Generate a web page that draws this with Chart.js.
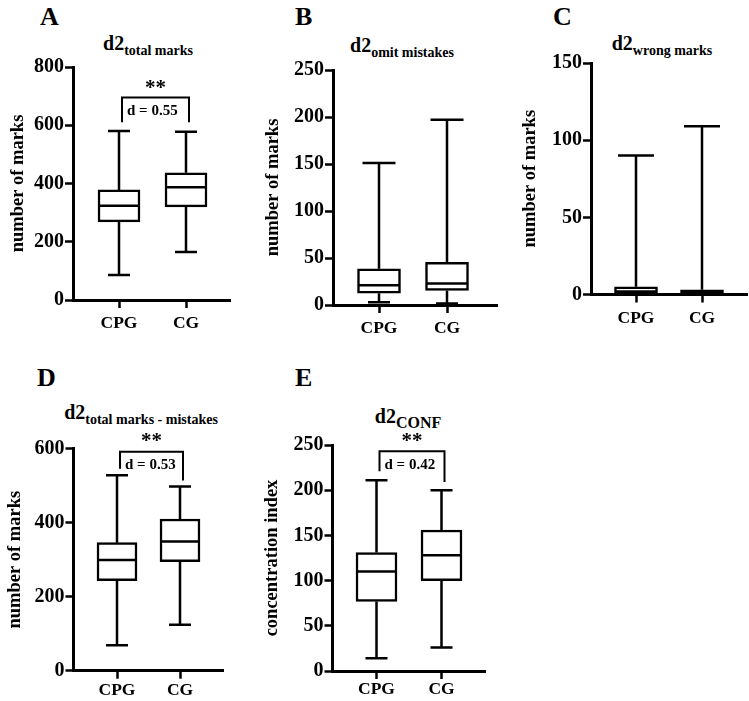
<!DOCTYPE html>
<html><head><meta charset="utf-8">
<script src="https://cdn.jsdelivr.net/npm/chart.js@4/dist/chart.umd.min.js"></script>
<style>
body{margin:0;background:#fff;width:749px;height:701px;position:relative;overflow:hidden;font-family:"Liberation Serif","Times New Roman",serif;color:#000;}
canvas{position:absolute;}
.lab{position:absolute;font-weight:bold;font-size:26px;line-height:1;}
.ttl{position:absolute;font-weight:bold;font-size:20px;line-height:1;white-space:nowrap;transform:translateX(-50%);}
.ttl sub{font-size:14px;vertical-align:baseline;position:relative;top:5px;}
.ttl sub.big{font-size:16px;}
</style></head><body>
<div class="lab" style="left:40px;top:4px">A</div>
<div class="lab" style="left:295px;top:4px">B</div>
<div class="lab" style="left:553px;top:4px">C</div>
<div class="lab" style="left:37px;top:365px">D</div>
<div class="lab" style="left:295px;top:365px">E</div>
<div class="ttl" style="left:148px;top:33px">d2<sub>total marks</sub></div>
<div class="ttl" style="left:402px;top:35px">d2<sub>omit mistakes</sub></div>
<div class="ttl" style="left:662px;top:33px">d2<sub>wrong marks</sub></div>
<div class="ttl" style="left:141px;top:402px">d2<sub>total marks - mistakes</sub></div>
<div class="ttl" style="left:408px;top:406px">d2<sub class="big">CONF</sub></div>
<canvas id="cA"></canvas><canvas id="cB"></canvas><canvas id="cC"></canvas><canvas id="cD"></canvas><canvas id="cE"></canvas>
<script>
// ---- data ----
const groups = ['CPG', 'CG'];
// [min, Q1, median, Q3, max]
const totalMarksCPG = [86, 268, 324, 378, 580];
const totalMarksCG  = [165, 320, 387, 437, 578];
const omitCPG = [3, 12.5, 21, 38.5, 151];
const omitCG  = [1.5, 15.5, 23, 45.5, 197];
const wrongCPG = [0, 0.8, 2, 5, 90];
const wrongCG  = [0, 0, 1.5, 3, 109];
const netCPG = [69, 243, 299, 346, 528];
const netCG  = [124, 295, 349, 410, 498];
const confCPG = [14, 77, 110, 131, 211];
const confCG  = [26, 100, 128, 156, 200];
const ticksTotal = [0, 200, 400, 600, 800];
const ticksOmit = [0, 50, 100, 150, 200, 250];
const ticksWrong = [0, 50, 100, 150];
const ticksNet = [0, 200, 400, 600];
const ticksConf = [0, 50, 100, 150, 200, 250];
// significance brackets: [top, left leg end, right leg end, label value, stars value]
const bracketTotal = [695, 610, 610, 647, 740];
const bracketNet = [592, 546, 514, 556, 629];
const bracketConf = [243, 221, 209, 228, 258];
const effectTotal = 'd = 0.55';
const effectNet = 'd = 0.53';
const effectConf = 'd = 0.42';
const yTitleMarks = 'number of marks';
const yTitleConf = 'concentration index';

const FONT = '"Liberation Serif","Times New Roman",serif';

const boxPlugin = {
  id: 'boxw',
  beforeDatasetsDraw(chart, args, o) {
    const xs = chart.scales.x, ys = chart.scales.y, ctx = chart.ctx;
    ctx.save();
    ctx.strokeStyle = '#000'; ctx.lineWidth = 2.5;
    o.stats.forEach((s, i) => {
      const x = xs.getPixelForValue(i);
      const p = s.map(v => ys.getPixelForValue(v));
      ctx.beginPath();
      ctx.moveTo(x, p[0]); ctx.lineTo(x, p[1]);
      ctx.moveTo(x, p[3]); ctx.lineTo(x, p[4]);
      ctx.moveTo(x - o.capMin / 2, p[0]); ctx.lineTo(x + o.capMin / 2, p[0]);
      ctx.moveTo(x - o.capMax / 2, p[4]); ctx.lineTo(x + o.capMax / 2, p[4]);
      ctx.stroke();
    });
    ctx.restore();
  },
  afterDatasetsDraw(chart, args, o) {
    const xs = chart.scales.x, ys = chart.scales.y, ctx = chart.ctx;
    ctx.save();
    ctx.strokeStyle = '#000'; ctx.fillStyle = '#000'; ctx.lineWidth = 2.5;
    o.stats.forEach((s, i) => {
      const x = xs.getPixelForValue(i);
      const y = ys.getPixelForValue(s[2]);
      ctx.beginPath();
      ctx.moveTo(x - o.box / 2 + 1, y); ctx.lineTo(x + o.box / 2 - 1, y);
      ctx.stroke();
    });
    if (o.bracket) {
      const b = o.bracket;
      const x0 = xs.getPixelForValue(0) + 3, x1 = xs.getPixelForValue(1) + 3;
      const yt = ys.getPixelForValue(b[0]);
      ctx.lineWidth = 2;
      ctx.beginPath();
      ctx.moveTo(x0, ys.getPixelForValue(b[1])); ctx.lineTo(x0, yt);
      ctx.lineTo(x1, yt); ctx.lineTo(x1, ys.getPixelForValue(b[2]));
      ctx.stroke();
      ctx.textBaseline = 'middle';
      ctx.font = 'bold 15px ' + FONT;
      ctx.textAlign = 'left';
      ctx.fillText(o.effect, x0 + 5, ys.getPixelForValue(b[3]));
      ctx.font = 'bold 21px ' + FONT;
      ctx.textAlign = 'center';
      ctx.fillText('**', (x0 + x1) / 2, ys.getPixelForValue(b[4]) + 4);
    }
    ctx.restore();
  }
};

const layouts = {
  A: { canvas: [0, 50, 250, 295], axisX: 73, axisRight: 230, yTop: 67, yBottom: 300, c: [119, 186], box: 42, capMin: 22, capMax: 22, tPad: 7, xPad: 5 },
  B: { canvas: [250, 50, 250, 295], axisX: 333, axisRight: 497, yTop: 70, yBottom: 305, c: [379, 447], box: 43, capMin: 22, capMax: 33, tPad: 12, xPad: 5 },
  C: { canvas: [500, 50, 249, 295], axisX: 591, axisRight: 747, yTop: 63, yBottom: 294.5, c: [636, 702], box: 43, capMin: 22, capMax: 36, tPad: 19, xPad: 5 },
  D: { canvas: [0, 420, 250, 281], axisX: 73.5, axisRight: 223, yTop: 448.7, yBottom: 670.7, c: [117, 180], box: 40, capMin: 22, capMax: 22, tPad: 4, xPad: 1 },
  E: { canvas: [250, 420, 250, 281], axisX: 332.5, axisRight: 485, yTop: 445, yBottom: 671, c: [376.5, 441.5], box: 41, capMin: 22, capMax: 22, tPad: 11, xPad: 0 }
};

function build(id, L, stats, ticks, yTitle, bracket, effect) {
  const cv = document.getElementById(id);
  const W = L.canvas[2], H = L.canvas[3];
  cv.width = W; cv.height = H;
  cv.style.width = W + 'px'; cv.style.height = H + 'px';
  cv.style.left = L.canvas[0] + 'px'; cv.style.top = L.canvas[1] + 'px';
  const ppu = L.c[1] - L.c[0];
  const xmin = -(L.c[0] - L.axisX) / ppu;
  const xmax = 1 + (L.axisRight - L.c[1]) / ppu;
  new Chart(cv, {
    type: 'bar',
    data: {
      datasets: [{
        data: stats.map((s, i) => ({ x: i, y: [s[1], s[3]] })),
        backgroundColor: '#fff', borderColor: '#000', borderWidth: 2.5,
        borderSkipped: false, barThickness: L.box
      }]
    },
    options: {
      responsive: false, animation: false, devicePixelRatio: 1,
      layout: { padding: { top: L.yTop - L.canvas[1], right: L.canvas[0] + W - L.axisRight, left: 0, bottom: 0 } },
      plugins: {
        legend: { display: false }, tooltip: { enabled: false }, title: { display: false },
        boxw: { stats, capMin: L.capMin, capMax: L.capMax, box: L.box, bracket, effect }
      },
      scales: {
        x: {
          type: 'linear', min: xmin, max: xmax, offset: false,
          afterBuildTicks: s => { s.ticks = groups.map((g, i) => ({ value: i })); },
          afterFit: s => { s.height = L.canvas[1] + H - L.yBottom; },
          ticks: { callback: v => groups[v], color: '#000', font: { family: FONT, size: 17.5, weight: 'bold' }, padding: L.xPad, maxRotation: 0, autoSkip: false },
          grid: { offset: false, drawOnChartArea: false, drawTicks: true, tickLength: 8, tickWidth: 2.5, tickColor: '#000', color: '#000' },
          border: { display: true, color: '#000', width: 3 }
        },
        y: {
          type: 'linear', min: ticks[0], max: ticks[ticks.length - 1],
          afterBuildTicks: s => { s.ticks = ticks.map(v => ({ value: v })); },
          afterFit: s => { s.width = L.axisX - L.canvas[0]; },
          ticks: { color: '#000', font: { family: FONT, size: 20, weight: 'bold' }, padding: 1 },
          grid: { offset: false, drawOnChartArea: false, drawTicks: true, tickLength: 8, tickWidth: 2.5, tickColor: '#000', color: '#000' },
          border: { display: true, color: '#000', width: 3 },
          title: { display: true, text: yTitle, color: '#000', font: { family: FONT, size: 18.5, weight: 'bold' }, padding: { top: L.tPad, bottom: 0 } }
        }
      }
    },
    plugins: [boxPlugin]
  });
}

build('cA', layouts.A, [totalMarksCPG, totalMarksCG], ticksTotal, yTitleMarks, bracketTotal, effectTotal);
build('cB', layouts.B, [omitCPG, omitCG], ticksOmit, yTitleMarks, null, null);
build('cC', layouts.C, [wrongCPG, wrongCG], ticksWrong, yTitleMarks, null, null);
build('cD', layouts.D, [netCPG, netCG], ticksNet, yTitleMarks, bracketNet, effectNet);
build('cE', layouts.E, [confCPG, confCG], ticksConf, yTitleConf, bracketConf, effectConf);
</script>
</body></html>
